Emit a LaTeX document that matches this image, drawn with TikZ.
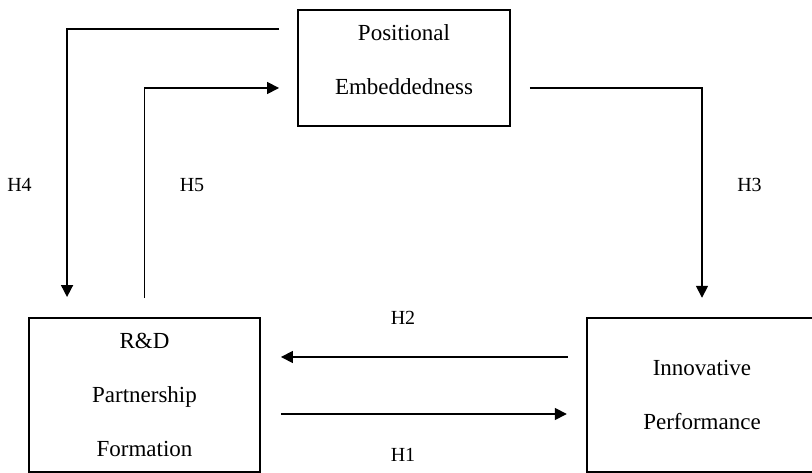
\documentclass[tikz,border=0pt]{standalone}
\usepackage{fontspec}
\setmainfont{Liberation Serif}
\usetikzlibrary{arrows.meta}
\begin{document}
\begin{tikzpicture}[x=1pt,y=1pt,
  box/.style={draw=black, line width=1.9pt, rectangle, inner sep=0pt, align=center,
    font=\fontsize{23}{54}\selectfont},
  openbox/.style={rectangle, inner sep=0pt, align=center,
    font=\fontsize{23}{54}\selectfont},
  conn/.style={draw=black, line width=1.6pt, -{Triangle[length=12pt,width=12pt]}},
  hlab/.style={font=\fontsize{20}{24}\selectfont, inner sep=0pt}]
\useasboundingbox (0,0) rectangle (812,473);
\node[box, minimum width=212pt, minimum height=116pt, text depth=16pt] (top) at (404,405) {Positional\\Embeddedness};
\node[box, minimum width=231pt, minimum height=154pt] (rd) at (144.5,78) {R\&D\\Partnership\\Formation};
\node[openbox, minimum width=230pt, minimum height=154pt] (ip) at (702,78) {Innovative\\Performance};
\draw[line width=1.9pt] ([xshift=20pt]ip.north east) -- (ip.north west) -- (ip.south west) -- ([xshift=20pt]ip.south east);
% H4
\draw[conn] ([xshift=-18pt,yshift=-20pt]top.north west) -| ([xshift=39pt,yshift=20pt]rd.north west);
% H5
\draw[conn] ([yshift=19pt]rd.north) |- ([xshift=-18pt,yshift=-20pt]top.west);
% H3
\draw[conn] ([xshift=19pt,yshift=-20pt]top.east) -| ([yshift=20pt]ip.north);
% H2
\draw[conn] ([xshift=-19pt,yshift=38pt]ip.west) -- ([xshift=20pt,yshift=38pt]rd.east);
% H1
\draw[conn] ([xshift=20pt,yshift=-19pt]rd.east) -- ([xshift=-20pt,yshift=-19pt]ip.west);
\node[hlab] (h4) at (19.5,288) {H4};
\node[hlab] (h5) at (192,288) {H5};
\node[hlab] (h3) at (749.5,288) {H3};
\node[hlab] (h2) at (403,155) {H2};
\node[hlab] (h1) at (403,18) {H1};
\end{tikzpicture}
\end{document}
